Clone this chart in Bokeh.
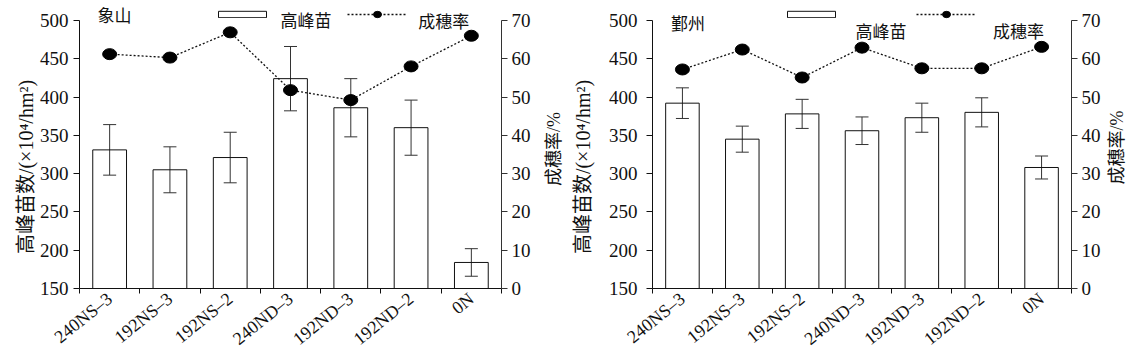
import math
from bokeh.plotting import figure
from bokeh.layouts import row
from bokeh.models import (ColumnDataSource, Range1d, LinearAxis, FixedTicker,
                          Whisker, TeeHead, Legend, LegendItem, Label)
from bokeh.embed import file_html
from bokeh.resources import INLINE

# ---------------- data ----------------
categories = ["240NS–3", "192NS–3", "192NS–2", "240ND–3", "192ND–3", "192ND–2", "0N"]

xiangshan_seedlings = [331, 305, 321, 424, 386, 360, 184]
xiangshan_seedlings_err = [33, 30, 33, 42, 38, 36, 18]
xiangshan_rate = [61.2, 60.3, 66.9, 51.8, 49.2, 58.0, 66.0]

yinzhou_seedlings = [392, 345, 378, 356, 373, 380, 308]
yinzhou_seedlings_err = [20, 17, 19, 18, 19, 19, 15]
yinzhou_rate = [57.2, 62.4, 55.1, 62.9, 57.5, 57.5, 63.1]

left_ticks = [150, 200, 250, 300, 350, 400, 450, 500]
right_ticks = [0, 10, 20, 30, 40, 50, 60, 70]

left_title = "高峰苗数/(×10⁴/hm²)"
right_title = "成穗率/%"
legend_bar = "高峰苗"
legend_line = "成穗率"

FONT = "Liberation Serif, Noto Sans CJK SC"
INK = "#111111"
H = 359
TOP = 5          # frame top (px)
BOTTOM = 70      # space below frame (px)
AXIS_TOP = 20    # where the top tick sits (px)
AXIS_PX = H - BOTTOM - AXIS_TOP
EM = "\u2003"


def key_legend(items, loc, gh):
    return Legend(items=items, orientation="horizontal", location=loc,
                  glyph_width=60, glyph_height=gh, label_standoff=0,
                  spacing=0, padding=0, margin=0, label_height=1,
                  label_width=1, border_line_alpha=0, background_fill_alpha=0,
                  label_text_font_size="1px", label_text_alpha=0)


def title_strip(text, width, cx, cy):
    """Narrow blank strip holding a rotated (bottom-to-top) axis title."""
    t = figure(width=width, height=H, x_range=Range1d(0, width),
               y_range=Range1d(0, H), output_backend="svg",
               toolbar_location=None, x_axis_location=None,
               y_axis_location=None, min_border=0)
    t.outline_line_color = None
    t.xgrid.visible = False
    t.ygrid.visible = False
    t.add_layout(Label(x=cx, y=H - cy, text=text, angle=math.pi / 2,
                       text_font=FONT, text_font_size="18px", text_color=INK,
                       text_align="center", text_baseline="middle"))
    return t


def make_panel(site, seedlings, err, rate, width, bl, br, site_xy,
               bar_key_loc, line_key_loc, bar_text_xy, line_text_xy,
               tick_standoff, title_standoff):
    n = len(categories)
    xs = [i + 0.5 for i in range(n)]
    src = ColumnDataSource(dict(
        x=xs, top=seedlings,
        upper=[s + e for s, e in zip(seedlings, err)],
        lower=[s - e for s, e in zip(seedlings, err)],
        rate=rate))

    extra = AXIS_TOP - TOP
    l0, l1 = left_ticks[0], left_ticks[-1]
    r0, r1 = right_ticks[0], right_ticks[-1]
    ltop = l1 + (l1 - l0) * extra / AXIS_PX
    rtop = r1 + (r1 - r0) * extra / AXIS_PX

    p = figure(width=width, height=H, x_range=Range1d(0, n),
               y_range=Range1d(l0, ltop),
               output_backend="svg", toolbar_location=None,
               min_border_left=bl, min_border_right=br,
               min_border_top=TOP, min_border_bottom=BOTTOM)
    p.extra_y_ranges = {"rate": Range1d(r0, rtop)}
    p.outline_line_color = None
    p.xgrid.visible = False
    p.ygrid.visible = False
    p.background_fill_color = "white"
    p.border_fill_color = "white"

    bars = p.vbar(x="x", top="top", bottom=l0, width=0.56, source=src,
                  fill_color=None, line_color=INK, line_width=1)

    wh = Whisker(base="x", upper="upper", lower="lower", source=src,
                 line_color="#333333", line_width=1,
                 upper_head=TeeHead(size=13, line_color="#333333", line_width=1),
                 lower_head=TeeHead(size=13, line_color="#333333", line_width=1))
    p.add_layout(wh)

    ln = p.line(x="x", y="rate", source=src, y_range_name="rate",
                line_color=INK, line_width=1.3, line_dash="2 2")
    dots = p.ellipse(x="x", y="rate", width=14, height=11,
                     width_units="screen", height_units="screen",
                     source=src, y_range_name="rate",
                     fill_color="black", line_color="black")

    # x axis
    xa = p.xaxis[0]
    xa.ticker = FixedTicker(ticks=xs, minor_ticks=list(range(n + 1)))
    xa.major_label_overrides = {x: c for x, c in zip(xs, categories)}
    xa.major_label_orientation = 0.68
    xa.major_tick_line_color = None
    xa.major_tick_out = 0
    xa.minor_tick_line_color = INK
    xa.minor_tick_out = 5
    xa.minor_tick_in = 0
    xa.axis_line_color = INK
    xa.major_label_text_font = FONT
    xa.major_label_text_font_size = "18px"
    xa.major_label_text_color = INK
    xa.major_label_standoff = 3

    # left axis
    ya = p.yaxis[0]
    ya.ticker = FixedTicker(ticks=left_ticks)
    ya.bounds = (l0, l1)
    ya.major_tick_out = 6
    ya.major_tick_in = 0
    ya.minor_tick_line_color = None
    ya.axis_line_color = INK
    ya.major_tick_line_color = INK
    ya.major_label_text_font = FONT
    ya.major_label_text_font_size = "19px"
    ya.major_label_text_color = INK
    ya.major_label_standoff = tick_standoff
    ya.axis_label = left_title + EM * 2
    ya.axis_label_text_font = FONT
    ya.axis_label_text_font_size = "20px"
    ya.axis_label_text_font_style = "normal"
    ya.axis_label_text_color = INK
    ya.axis_label_standoff = title_standoff

    # right axis
    ra = LinearAxis(y_range_name="rate", ticker=FixedTicker(ticks=right_ticks),
                    bounds=(r0, r1))
    ra.major_tick_out = 6
    ra.major_tick_in = 0
    ra.minor_tick_line_color = None
    ra.axis_line_color = "#333333"
    ra.major_tick_line_color = "#333333"
    ra.major_label_text_font = FONT
    ra.major_label_text_font_size = "19px"
    ra.major_label_text_color = INK
    ra.major_label_standoff = 4
    p.add_layout(ra, "right")

    # texts
    for (tx, ty), t in [(site_xy, site), (bar_text_xy, legend_bar),
                        (line_text_xy, legend_line)]:
        p.add_layout(Label(x=tx, y=ty, text=t, text_font=FONT,
                           text_font_size="17px", text_color=INK,
                           text_baseline="middle", text_align="left"))

    # legend keys
    p.add_layout(key_legend([LegendItem(label=" ", renderers=[bars])],
                            bar_key_loc, 8), "center")
    p.add_layout(key_legend([LegendItem(label=" ", renderers=[ln, dots])],
                            line_key_loc, 10), "center")
    return p


p1 = make_panel("象山", xiangshan_seedlings, xiangshan_seedlings_err, xiangshan_rate,
                537, 79, 36, (0.3, 505),
                (133, 270), (268, 269), (3.334, 498.7), (5.62, 497.4),
                5, 0)
t1 = title_strip(right_title, 31, 16.5, 182)
p2 = make_panel("鄞州", yinzhou_seedlings, yinzhou_seedlings_err, yinzhou_rate,
                536, 80, 33, (0.31, 494.8),
                (129, 270), (264, 269), (3.39, 484.8), (5.69, 484.6),
                9, 12)
t2 = title_strip(right_title, 33, 12, 180)

layout = row(p1, t1, p2, t2)
open("out.html", "w").write(file_html(layout, INLINE))
